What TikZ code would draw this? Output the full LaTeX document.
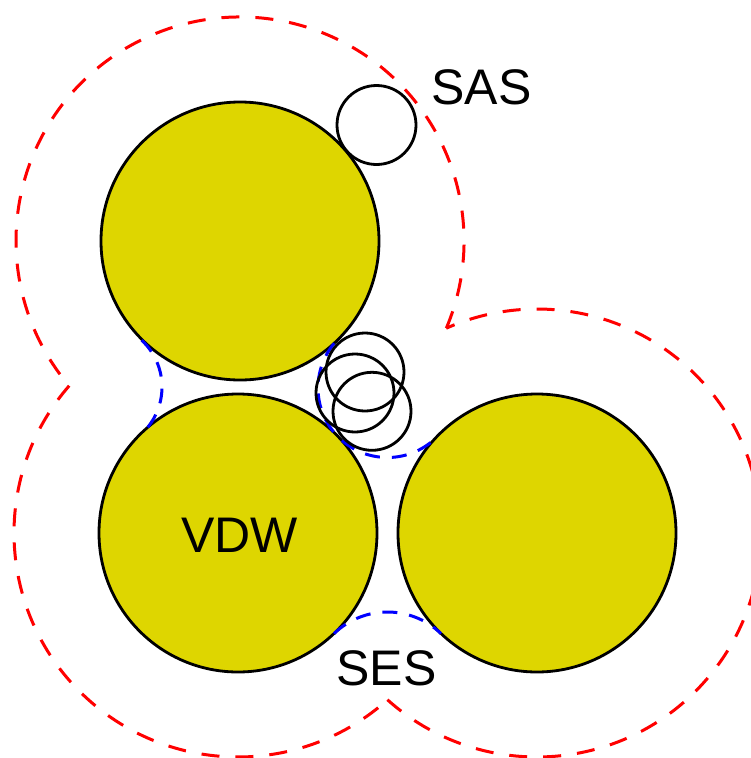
\documentclass[tikz,border=0pt]{standalone}
\usepackage{fontspec}
\setmainfont{Liberation Sans}
\definecolor{atomyellow}{RGB}{222,214,0}
\begin{document}
\begin{tikzpicture}[x=1pt,y=1pt,
  vdw/.style={draw=black,line width=2.8pt,fill=atomyellow},
  probe/.style={draw=black,line width=2.8pt},
  sas/.style={draw=red,line width=3pt,dash pattern=on 18pt off 16pt},
  ses/.style={draw=blue,line width=3pt,dash pattern=on 15pt off 12pt},
  lbl/.style={font=\fontsize{50}{60}\selectfont,inner sep=0pt,anchor=base}]
\useasboundingbox (0,0) rectangle (751,-758);
\clip (0,0) rectangle (751,-758);

% atom centres
\coordinate (T) at (240,-241);
\coordinate (L) at (238,-533);
\coordinate (R) at (537,-533);

% solvent accessible surface: outer envelope of enlarged atoms
\draw[sas] (T) ++(-22.9:224) arc[start angle=-22.9,end angle=220.3,radius=224];
\draw[sas] (L) ++(138.9:224) arc[start angle=138.9,end angle=311.9,radius=224];
\draw[sas] (R) ++(-131.9:224) arc[start angle=-131.9,end angle=113.9,radius=224];

% van der Waals spheres
\draw[vdw] (T) circle[radius=139];
\draw[vdw] (L) circle[radius=139];
\draw[vdw] (R) circle[radius=139];

% solvent excluded surface: re-entrant patches
\coordinate (sesL) at (98,-387);
\coordinate (sesC) at (387.5,-388);
\coordinate (sesB) at (387.5,-689);
\draw[ses] (sesL) ++(47:64) arc[start angle=47,end angle=-47,radius=64];
\draw[ses] (sesC) ++(140:69.5) arc[start angle=140,end angle=310,radius=69.5];
\draw[ses] (sesB) ++(134:77) arc[start angle=134,end angle=46,radius=77];

% probe spheres
\draw[probe] (376.5,-125) circle[radius=39.5];
\draw[probe] (365,-372) circle[radius=39];
\draw[probe] (355,-393) circle[radius=39];
\draw[probe] (372,-411.3) circle[radius=39];

% labels
\node[lbl] (sasl) at (481.5,-104) {SAS};
\node[lbl] (vdwl) at (239.5,-552) {VDW};
\node[lbl] (sesl) at (386.5,-685) {SES};
\end{tikzpicture}
\end{document}
